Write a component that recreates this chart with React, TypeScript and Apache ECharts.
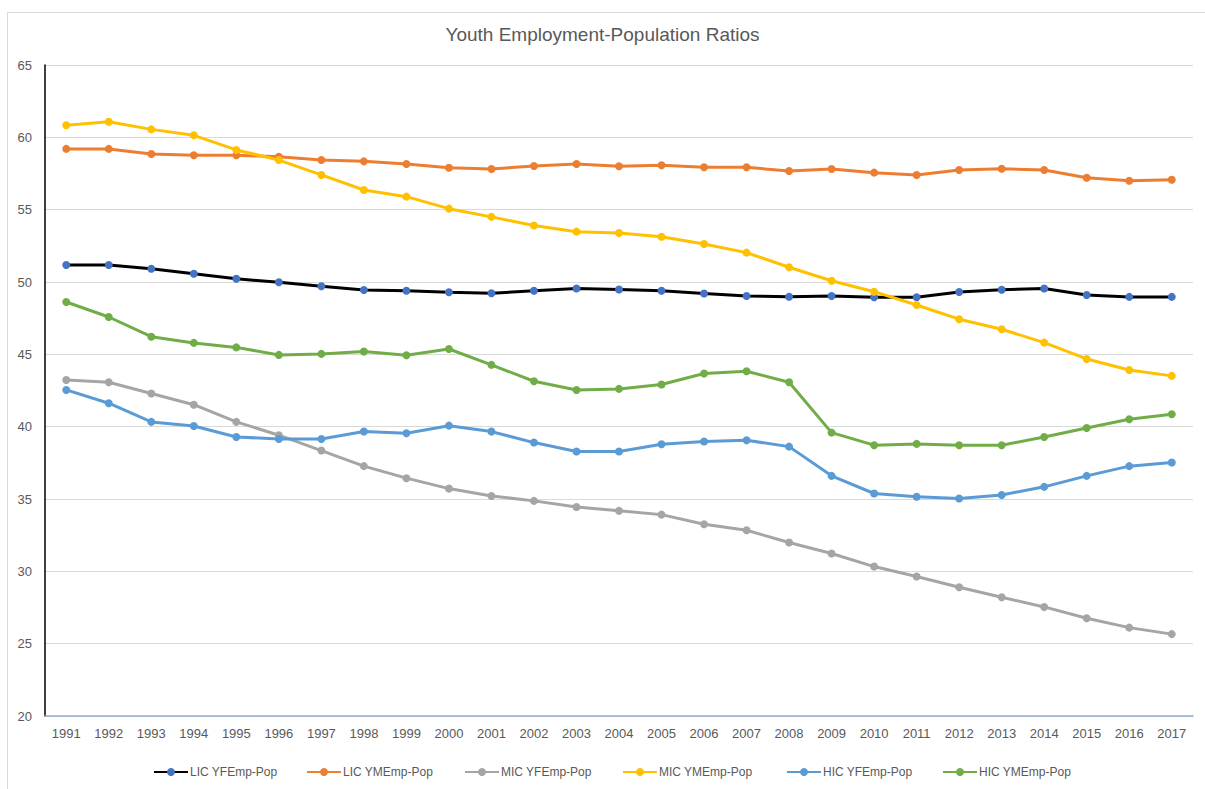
import React, { useEffect, useRef } from "react";
import * as echarts from "echarts";

const years = [
  "1991", "1992", "1993", "1994", "1995", "1996", "1997", "1998", "1999",
  "2000", "2001", "2002", "2003", "2004", "2005", "2006", "2007", "2008",
  "2009", "2010", "2011", "2012", "2013", "2014", "2015", "2016", "2017",
];

const licYF = [
  51.18, 51.18, 50.92, 50.57, 50.22, 49.98, 49.71, 49.45, 49.4, 49.29, 49.22,
  49.4, 49.55, 49.48, 49.4, 49.21, 49.03, 48.98, 49.03, 48.95, 48.95, 49.31,
  49.46, 49.55, 49.1, 48.97, 48.97,
];
const licYM = [
  59.2, 59.2, 58.85, 58.76, 58.76, 58.66, 58.43, 58.34, 58.16, 57.9, 57.81,
  58.02, 58.16, 58.0, 58.07, 57.93, 57.93, 57.67, 57.81, 57.56, 57.4, 57.74,
  57.83, 57.74, 57.21, 57.0, 57.07,
];
const micYF = [
  43.23, 43.07, 42.29, 41.52, 40.33, 39.41, 38.35, 37.27, 36.44, 35.72, 35.21,
  34.87, 34.45, 34.18, 33.92, 33.26, 32.84, 31.99, 31.23, 30.33, 29.64, 28.9,
  28.21, 27.54, 26.76, 26.11, 25.66,
];
const micYM = [
  60.83, 61.08, 60.55, 60.14, 59.13, 58.43, 57.4, 56.36, 55.9, 55.07, 54.5,
  53.9, 53.48, 53.39, 53.13, 52.63, 52.03, 51.02, 50.09, 49.33, 48.41, 47.43,
  46.73, 45.81, 44.68, 43.92, 43.51,
];
const hicYF = [
  42.54, 41.62, 40.33, 40.05, 39.29, 39.15, 39.15, 39.66, 39.54, 40.07, 39.66,
  38.9, 38.28, 38.28, 38.78, 38.97, 39.06, 38.62, 36.6, 35.38, 35.15, 35.03,
  35.28, 35.84, 36.6, 37.27, 37.52,
];
const hicYM = [
  48.62, 47.58, 46.22, 45.79, 45.48, 44.96, 45.03, 45.19, 44.94, 45.37, 44.27,
  43.14, 42.54, 42.61, 42.91, 43.67, 43.83, 43.07, 39.59, 38.72, 38.81, 38.72,
  38.72, 39.29, 39.91, 40.51, 40.86,
];

const seriesNames = [
  "LIC YFEmp-Pop",
  "LIC YMEmp-Pop",
  "MIC YFEmp-Pop",
  "MIC YMEmp-Pop",
  "HIC YFEmp-Pop",
  "HIC YMEmp-Pop",
];
const seriesData = [licYF, licYM, micYF, micYM, hicYF, hicYM];
const lineColors = ["#000000", "#ED7D31", "#A5A5A5", "#FFC000", "#5B9BD5", "#70AD47"];
const markerColors = ["#4472C4", "#ED7D31", "#A5A5A5", "#FFC000", "#5B9BD5", "#70AD47"];
const legendLefts = [148, 301, 459, 617, 781, 937];

const FONT = "'Liberation Sans', Arial, sans-serif";

export default function App() {
  const ref = useRef<HTMLDivElement>(null);
  useEffect(() => {
    if (!ref.current) return;
    const chart = echarts.init(ref.current, undefined, { renderer: "svg" });
    chart.setOption({
      animation: false,
      backgroundColor: "#ffffff",
      title: {
        text: "Youth Employment-Population Ratios",
        left: "center",
        top: 20,
        textStyle: {
          color: "#595959",
          fontSize: 19,
          fontWeight: "normal",
          fontFamily: FONT,
        },
      },
      graphic: [
        {
          type: "rect",
          shape: { x: 7.5, y: 12.5, width: 1210, height: 800 },
          style: { fill: "none", stroke: "#D9D9D9", lineWidth: 1 },
          silent: true,
          z: -1,
        },
      ],
      legend: seriesNames.map((n, i) => ({
        data: [n],
        left: legendLefts[i],
        top: 761,
        itemWidth: 34,
        itemHeight: 10,
        itemGap: 0,
        textStyle: { color: "#595959", fontSize: 12, fontFamily: FONT, padding: [0, 0, 0, -3] },
      })),
      grid: { left: 45, right: 12, top: 65, bottom: 73, containLabel: false },
      xAxis: {
        type: "category",
        data: years,
        boundaryGap: true,
        axisLine: { lineStyle: { color: "#8FAADC", width: 1.5 } },
        axisTick: { show: false },
        axisLabel: {
          color: "#595959",
          fontSize: 13,
          fontFamily: FONT,
          margin: 11,
          interval: 0,
        },
        splitLine: { show: false },
      },
      yAxis: {
        type: "value",
        min: 20,
        max: 65,
        interval: 5,
        axisLine: { show: true, lineStyle: { color: "#000000", width: 1.5 } },
        axisTick: { show: false },
        axisLabel: {
          color: "#595959",
          fontSize: 13,
          fontFamily: FONT,
          margin: 13,
        },
        splitLine: { lineStyle: { color: "#D9D9D9", width: 1 } },
      },
      series: seriesNames.map((n, i) => ({
        name: n,
        type: "line",
        data: seriesData[i],
        symbol: "circle",
        symbolSize: 8,
        showSymbol: true,
        lineStyle: { color: lineColors[i], width: 3 },
        itemStyle: { color: markerColors[i] },
      })),
    });
    return () => chart.dispose();
  }, []);
  return (
    <div
      ref={ref}
      style={{ position: "fixed", left: 0, top: 0, width: 1205, height: 789 }}
    />
  );
}
